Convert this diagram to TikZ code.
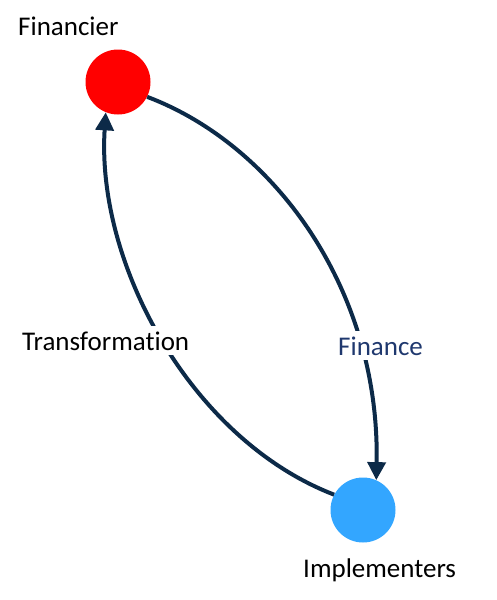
\documentclass[tikz,border=0pt]{standalone}
\usepackage{fontspec}
\setmainfont{Carlito}[Ligatures=NoCommon]
\usepackage{tikz}
\usetikzlibrary{positioning, arrows.meta}
\definecolor{linknavy}{RGB}{12,42,72}
\definecolor{textnavy}{RGB}{31,56,110}
\definecolor{impblue}{RGB}{51,166,255}

\begin{document}
\begin{tikzpicture}[x=1pt, y=-1pt, font=\fontsize{27}{32}\selectfont,
	party/.style={circle, minimum size=65pt, inner sep=0pt},
	link/.style={-{Triangle[width=18pt,length=18pt]}, line width=4pt, linknavy},
	tag/.style={anchor=base west, inner sep=0pt}]
		\useasboundingbox (0,0) rectangle (496,600);
		\node[party, fill=red] (fin) at (118,82) {};
		\node[party, fill=impblue] (imp) at (363,510) {};
		
		\node[tag] (finname) at (18,35) {Financier};
		\node[tag] (impname) at (303,577) {Implementers};
		
		\draw[link] (fin.-27) .. controls (275,145) and (380,290) .. (imp.66);
		\draw[link] (imp.152) .. controls (192,440) and (96,265) .. (fin.-112);
		
		\node[tag, fill=white, inner xsep=0pt, inner ysep=5pt, text width=185pt] (trans) at (22,350) {Transformation};
		\node[tag, fill=white, text=textnavy, inner sep=5pt] (finance) at (333,355) {Finance};
		
	\end{tikzpicture}
\end{document}
